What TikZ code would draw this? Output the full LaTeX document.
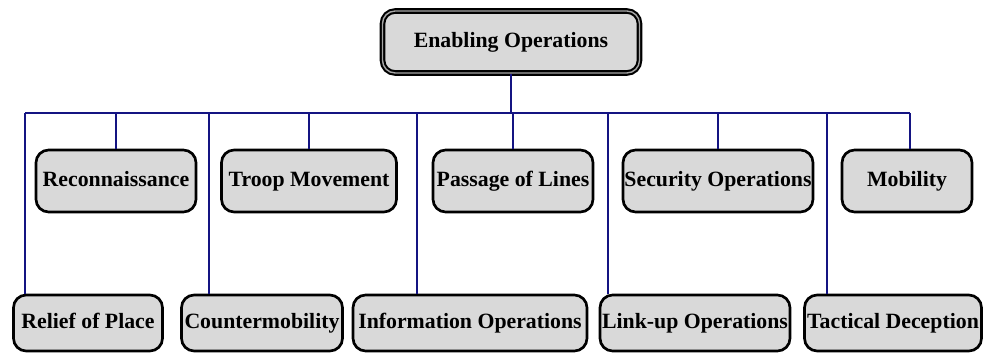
\documentclass[tikz,border=0pt]{standalone}
\usepackage{fontspec}
\setmainfont{Liberation Serif}
\definecolor{boxgray}{RGB}{217,217,217}
\definecolor{linenavy}{RGB}{20,20,130}
\tikzset{
  opbox/.style={draw=black, fill=boxgray, line width=1.9pt, rounded corners=9pt,
    inner sep=1pt, align=center, text height=1.6ex, text depth=0ex,
    font=\fontsize{15.5}{18}\selectfont\bfseries},
  topbox/.style={opbox, double=gray!70, double distance=1pt, line width=1.5pt},
  link/.style={draw=linenavy, line width=2.1pt}
}
\begin{document}
\begin{tikzpicture}[x=0.025cm,y=-0.025cm]
    % canvas, in pixels of the reference
    \useasboundingbox (0,0) rectangle (988,353);
    \def\rowa{181}
    \def\rowb{323}
    \def\busy{113}

    % Draw the head
    \node[topbox, minimum width=257*0.025cm, minimum height=62*0.025cm] (enabling) at (511,42) {Enabling Operations};

    % Draw the upper row
    \node[opbox, minimum width=160*0.025cm, minimum height=62*0.025cm] (recon) at (116,\rowa) {Reconnaissance};
    \node[opbox, minimum width=175*0.025cm, minimum height=62*0.025cm] (troop) at (309,\rowa) {Troop Movement};
    \node[opbox, minimum width=160*0.025cm, minimum height=62*0.025cm] (passage) at (513,\rowa) {Passage of Lines};
    \node[opbox, minimum width=190*0.025cm, minimum height=62*0.025cm] (security) at (718,\rowa) {Security Operations};
    \node[opbox, minimum width=130*0.025cm, minimum height=62*0.025cm] (mobility) at (907,\rowa) {Mobility};

    % Draw the lower row
    \node[opbox, minimum width=149*0.025cm, minimum height=56*0.025cm] (relief) at (88,\rowb) {Relief of Place};
    \node[opbox, minimum width=161*0.025cm, minimum height=56*0.025cm] (counter) at (262,\rowb) {Countermobility};
    \node[opbox, minimum width=234*0.025cm, minimum height=56*0.025cm] (info) at (470,\rowb) {Information Operations};
    \node[opbox, minimum width=190*0.025cm, minimum height=56*0.025cm] (linkup) at (695,\rowb) {Link-up Operations};
    \node[opbox, minimum width=177*0.025cm, minimum height=56*0.025cm] (tactical) at (893,\rowb) {Tactical Deception};

    % Bus and drop points
    \coordinate (busleft) at (25,\busy);
    \coordinate (busright) at (910,\busy);
    \coordinate (dcounter) at (209,\busy);
    \coordinate (dinfo) at (417,\busy);
    \coordinate (dlinkup) at (608,\busy);
    \coordinate (dtactical) at (827,\busy);

    \draw[link] (busleft) -- (busright);
    \draw[link] (enabling.south) -- (enabling.south |- busleft);

    \foreach \n in {recon,troop,passage,security} {
      \draw[link] (\n.north) -- (\n.north |- busleft);
    }
    \draw[link] (busright) -- (busright |- mobility.north);

    % Long drops to the lower row
    \draw[link] (busleft) -- (busleft |- relief.north);
    \foreach \d in {dcounter,dinfo,dlinkup,dtactical} {
      \draw[link] (\d) -- (\d |- relief.north);
    }
\end{tikzpicture}
\end{document}
